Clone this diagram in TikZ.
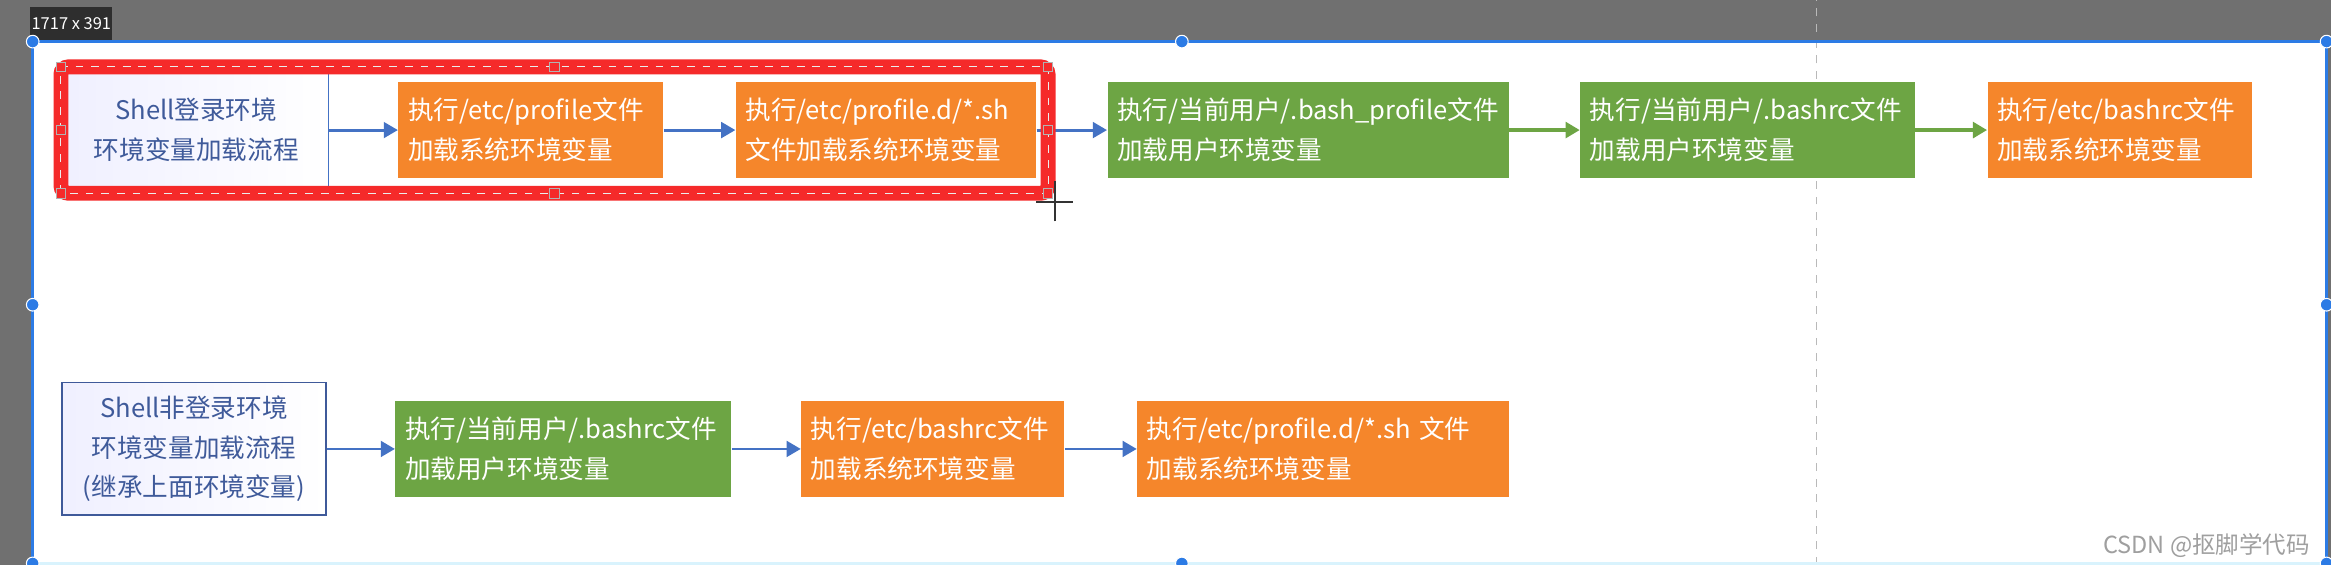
\documentclass[tikz,border=0pt]{standalone}
\usepackage{fontspec}
\setmainfont{Noto Sans CJK SC}
\usepackage{xcolor}
\usetikzlibrary{arrows.meta, calc, positioning}

\definecolor{boxorange}{HTML}{F5862B}
\definecolor{boxgreen}{HTML}{6DA544}
\definecolor{flowblue}{HTML}{4472C4}
\definecolor{titleblue}{HTML}{3F5A9A}
\definecolor{frameblue}{HTML}{2C7BE5}
\definecolor{selred}{HTML}{F52A2A}
\definecolor{chromegray}{HTML}{707070}

\begin{document}
\begin{tikzpicture}[
        font=\fontsize{9.8}{15.2}\selectfont,
        >={Triangle[length=0.19cm, width=0.21cm]},
        stepbox/.style={
            rectangle,
            text width=#1,
            inner xsep=0.13cm,
            minimum height=1.3cm,
            align=left,
            text=white
        },
        orangebox/.style={stepbox=#1, fill=boxorange},
        greenbox/.style={stepbox=#1, fill=boxgreen},
        titlebox/.style={
            rectangle, draw=flowblue, line width=0.5pt,
            left color=blue!6, right color=white,
            align=center, text=titleblue,
            minimum width=3.55cm
        },
        flow/.style={->, draw=flowblue, line width=1.1pt},
        flowg/.style={->, draw=boxgreen, line width=1.4pt},
        handle/.style={circle, fill=frameblue, draw=white, line width=0.4pt, inner sep=0pt, minimum size=0.17cm},
        sqhandle/.style={rectangle, draw=gray!60, fill=selred, line width=0.4pt, inner sep=0pt, minimum size=0.13cm},
    ]
    \useasboundingbox (0,0) rectangle (31.36,7.6);

    %============================================================
    % Screen around the canvas
    %============================================================
    \fill[chromegray] (0,0) rectangle (31.36,7.6);
    \fill[white] (0.44,0) rectangle (31.30,7.04);
    \draw[gray!55, dashed, line width=0.6pt] (24.44,0) -- (24.44,7.6);
    \node[fill=black!82, text=white, font=\fontsize{6.3}{7}\selectfont,
          minimum width=0.96cm, minimum height=0.44cm, inner sep=0.5pt] (size) at (0.96,7.28) {1717 x 391};

    %============================================================
    % Row 1: login shell
    %============================================================
    \node[titlebox, minimum height=1.54cm] (login) at (2.64,5.85) {Shell登录环境\\环境变量加载流程};
    \node[orangebox=3.30cm] (p1) at (7.14,5.85) {执行/etc/profile文件\\加载系统环境变量};
    \node[orangebox=3.78cm] (p2) at (11.92,5.85) {执行/etc/profile.d/*.sh\\文件加载系统环境变量};
    \node[greenbox=5.14cm]  (p3) at (17.60,5.85) {执行/当前用户/.bash\_profile文件\\加载用户环境变量};
    \node[greenbox=4.24cm]  (p4) at (23.51,5.85) {执行/当前用户/.bashrc文件\\加载用户环境变量};
    \node[orangebox=3.30cm] (p5) at (28.52,5.85) {执行/etc/bashrc文件\\加载系统环境变量};

    \foreach \a/\b in {login/p1, p1/p2, p2/p3}
        \draw[flow] (\a) -- (\b);
    \foreach \a/\b in {p3/p4, p4/p5}
        \draw[flowg] (\a) -- (\b);

    %============================================================
    % Row 2: non-login shell
    %============================================================
    \node[titlebox, draw=titleblue, minimum height=1.78cm] (nonlogin) at (2.61,1.56) {Shell非登录环境\\环境变量加载流程\\(继承上面环境变量)};
    \node[greenbox=4.26cm]  (q1) at (7.58,1.56) {执行/当前用户/.bashrc文件\\加载用户环境变量};
    \node[orangebox=3.28cm] (q2) at (12.55,1.56) {执行/etc/bashrc文件\\加载系统环境变量};
    \node[orangebox=4.74cm] (q3) at (17.80,1.56) {执行/etc/profile.d/*.sh 文件\\加载系统环境变量};

    \foreach \a/\b in {nonlogin/q1, q1/q2, q2/q3}
        \draw[flow] (\a) -- (\b);

    %============================================================
    % Red selection round row 1 (first three boxes)
    %============================================================
    \draw[selred, line width=0.2cm, rounded corners=0.1cm]
        (0.82,5.0) rectangle (14.10,6.70);
    \draw[white!85!gray, dashed, line width=0.4pt] (0.82,5.0) rectangle (14.10,6.70);
    \foreach \hx in {0.82, 7.46, 14.10}{
        \node[sqhandle] at (\hx,5.0) {};
        \node[sqhandle] at (\hx,6.70) {};
    }
    \node[sqhandle] at (0.82,5.85) {};
    \node[sqhandle] at (14.10,5.85) {};

    % mouse cursor
    \draw[black!80, line width=0.6pt] (14.19,4.62) -- (14.19,5.16);
    \draw[black!80, line width=0.6pt] (13.94,4.88) -- (14.44,4.88);

    %============================================================
    % Blue canvas frame with handles
    %============================================================
    \draw[frameblue, line width=1.2pt] (0.44,0.02) -- (0.44,7.04) -- (31.30,7.04) -- (31.30,0.02);
    \draw[cyan!15, line width=1.2pt] (0.44,0.02) -- (31.30,0.02);
    \foreach \hx/\hy in {0.44/7.04, 15.90/7.04, 31.30/7.04, 0.44/3.50, 31.30/3.50, 0.44/0.02, 15.90/0.02, 31.30/0.02}
        \node[handle] at (\hx,\hy) {};

    % watermark
    \node[anchor=east, text=gray!75, font=\fontsize{9}{10}\selectfont] (mark) at (31.2,0.26) {CSDN @抠脚学代码};

\end{tikzpicture}
\end{document}
